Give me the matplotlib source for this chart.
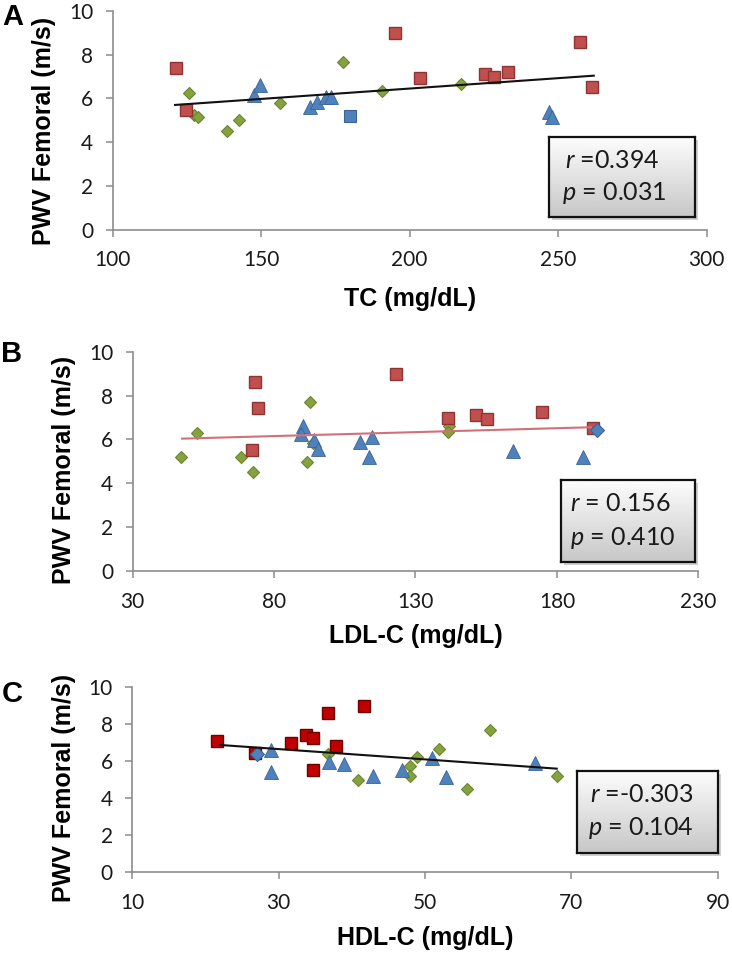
import matplotlib
matplotlib.use("Agg")
import matplotlib.pyplot as plt
import numpy as np
from matplotlib.patches import Rectangle

plt.rcParams['mathtext.fontset'] = 'custom'
plt.rcParams['mathtext.rm'] = 'Lato'
plt.rcParams['mathtext.it'] = 'Lato:italic'

W, H = 732, 958

# ---------------- data ----------------
# Panel A: TC
a_red_x = [121.3, 124.7, 195.2, 203.4, 225.3, 228.3, 233.0, 257.3, 261.3]
a_red_y = [7.38, 5.47, 8.98, 6.92, 7.12, 6.96, 7.19, 8.60, 6.51]
a_green_x = [125.8, 127.5, 128.8, 138.6, 142.7, 156.4, 177.4, 190.7, 217.4]
a_green_y = [6.26, 5.22, 5.15, 4.51, 5.01, 5.78, 7.68, 6.35, 6.66]
a_blue_x = [147.6, 149.7, 166.5, 168.8, 171.9, 173.5, 246.9, 248.0]
a_blue_y = [6.16, 6.61, 5.59, 5.85, 6.05, 6.05, 5.39, 5.16]
a_extra_x = [180.0]
a_extra_y = [5.21]
a_trend_x = [121.0, 262.0]
a_trend_y = [5.70, 7.04]
a_stats = ("=0.394", "= 0.031")

# Panel B: LDL-C
b_red_x = [72.3, 73.3, 74.3, 123.1, 141.4, 151.3, 155.2, 174.6, 192.9]
b_red_y = [5.51, 8.60, 7.44, 9.00, 6.99, 7.11, 6.91, 7.26, 6.53]
b_green_x = [47.0, 52.6, 68.2, 72.4, 92.7, 93.9, 91.8, 142.0, 141.4]
b_green_y = [5.20, 6.27, 5.20, 4.52, 7.69, 5.82, 4.98, 6.61, 6.35]
b_blue_x = [90.3, 89.5, 94.2, 95.4, 110.4, 114.7, 113.6, 164.4, 189.2]
b_blue_y = [6.61, 6.23, 5.97, 5.54, 5.86, 6.09, 5.20, 5.48, 5.20]
b_extra_x = [194.3]
b_extra_y = [6.41]
b_trend_x = [47.5, 192.0]
b_trend_y = [6.03, 6.55]
b_stats = ("= 0.156", "= 0.410")

# Panel C: HDL-C
c_red_x = [21.6, 26.7, 31.7, 33.7, 34.7, 34.7, 36.7, 37.8, 41.7]
c_red_y = [7.06, 6.40, 6.98, 7.39, 7.21, 5.50, 8.60, 6.80, 8.97]
c_green_x = [36.7, 40.8, 48.0, 47.9, 48.9, 51.9, 55.8, 58.9, 68.0]
c_green_y = [6.36, 4.96, 5.71, 5.17, 6.22, 6.61, 4.47, 7.66, 5.19]
c_blue_x = [28.9, 28.9, 36.9, 38.9, 42.9, 46.9, 50.9, 52.9, 65.0]
c_blue_y = [6.58, 5.40, 5.95, 5.80, 5.17, 5.50, 6.16, 5.10, 5.86]
c_extra_x = [27.0]
c_extra_y = [6.35]
c_trend_x = [22.0, 68.0]
c_trend_y = [6.85, 5.57]
c_stats = ("=-0.303", "= 0.104")

y_ticks = [0, 2, 4, 6, 8, 10]
a_xticks = [100, 150, 200, 250, 300]
b_xticks = [30, 80, 130, 180, 230]
c_xticks = [10, 30, 50, 70, 90]

# ---------------- styling ----------------
RED = '#C0504D'; RED_E = '#8E3533'
RED_C = '#C00000'; RED_CE = '#6E0000'
GREEN = '#86A23F'; GREEN_E = '#6B8530'
BLUE = '#4F81BD'; BLUE_E = '#3A6496'
AXC = '#8C8C8C'

fig = plt.figure(figsize=(W / 100, H / 100), dpi=100)


def rect(l, r, t, b):
    return [l / W, 1 - b / H, (r - l) / W, (b - t) / H]


def fx(x):
    return x / W


def fy(y):
    return 1 - y / H


def panel(pos, xt, red, green, blue, extra, extra_marker, trend, trend_color,
          red_c, red_e, letter, letter_xy, xlabel, xlabel_y, ylabel_x, ylabel_y,
          box, stats, text_x, line_ys):
    ax = fig.add_axes(rect(*pos))
    ax.set_xlim(xt[0], xt[-1])
    ax.set_ylim(0, 10)
    ax.set_xticks(xt)
    ax.set_yticks(y_ticks)
    for s in ['top', 'right']:
        ax.spines[s].set_visible(False)
    for s in ['left', 'bottom']:
        ax.spines[s].set_color(AXC)
        ax.spines[s].set_linewidth(1.2)
    ax.tick_params(axis='both', direction='out', length=5, width=1.1, color=AXC,
                   labelsize=15, labelcolor='#1a1a1a')
    ax.tick_params(axis='x', pad=10)
    ax.tick_params(axis='y', pad=9)
    for lab in ax.get_xticklabels() + ax.get_yticklabels():
        lab.set_fontfamily('Lato')
    ax.plot(green[0], green[1], linestyle='none', marker='D', markersize=6.6,
            markerfacecolor=GREEN, markeredgecolor=GREEN_E, markeredgewidth=0.8, zorder=3)
    ax.plot(blue[0], blue[1], linestyle='none', marker='^', markersize=9.5,
            markerfacecolor=BLUE, markeredgecolor=BLUE_E, markeredgewidth=0.6, zorder=3)
    ax.plot(red[0], red[1], linestyle='none', marker='s', markersize=8.8,
            markerfacecolor=red_c, markeredgecolor=red_e, markeredgewidth=1.0, zorder=3)
    ax.plot(extra[0], extra[1], linestyle='none', marker=extra_marker,
            markersize=8.8 if extra_marker == 's' else 6.8,
            markerfacecolor=BLUE, markeredgecolor=BLUE_E, markeredgewidth=0.8, zorder=3)
    ax.plot(trend[0], trend[1], color=trend_color, linewidth=1.5, zorder=4)

    fig.text(fx(letter_xy[0]), fy(letter_xy[1]), letter, fontsize=21, fontweight='bold',
             family='Liberation Sans', ha='center', va='center')
    fig.text(fx((pos[0] + pos[1]) / 2), fy(xlabel_y), xlabel, fontsize=18,
             fontweight='bold', family='Liberation Sans', ha='center', va='center')
    fig.text(fx(ylabel_x), fy(ylabel_y), 'PWV Femoral (m/s)', fontsize=18,
             fontweight='bold', family='Liberation Sans', ha='center', va='center',
             rotation=90)

    # stats box with gradient + shadow
    bl, br, bt, bb = box
    sh = Rectangle((fx(bl + 3), fy(bb + 3)), (br - bl) / W, (bb - bt) / H,
                   transform=fig.transFigure, facecolor='#b0b0b0', edgecolor='none',
                   alpha=0.6, zorder=5)
    fig.add_artist(sh)
    bax = fig.add_axes(rect(bl, br, bt, bb), zorder=6)
    grad = np.linspace(0.99, 0.78, 100).reshape(-1, 1)
    bax.imshow(np.repeat(grad, 2, axis=1), cmap='gray', vmin=0, vmax=1,
               aspect='auto', extent=[0, 1, 0, 1], origin='upper')
    bax.set_xticks([]); bax.set_yticks([])
    for s in bax.spines.values():
        s.set_color('#111111'); s.set_linewidth(1.6)
    fig.text(fx(text_x[0]), fy(line_ys[0]), r'$\mathit{r}$ ' + stats[0], fontsize=18,
             family='Lato', ha='left', va='center', color='#1a1a1a', zorder=7)
    fig.text(fx(text_x[1]), fy(line_ys[1]), r'$\mathit{p}$ ' + stats[1], fontsize=18,
             family='Lato', ha='left', va='center', color='#1a1a1a', zorder=7)
    return ax


panel((112.7, 706.6, 11.0, 229.5), a_xticks,
      (a_red_x, a_red_y), (a_green_x, a_green_y), (a_blue_x, a_blue_y),
      (a_extra_x, a_extra_y), 's', (a_trend_x, a_trend_y), '#111111',
      RED, RED_E, 'A', (13, 17), 'TC (mg/dL)', 299, 44.5, 131,
      (549, 695, 137, 217), a_stats, (565, 562), (160, 193))

panel((132.7, 698.3, 351.7, 570.7), b_xticks,
      (b_red_x, b_red_y), (b_green_x, b_green_y), (b_blue_x, b_blue_y),
      (b_extra_x, b_extra_y), 'D', (b_trend_x, b_trend_y), '#D2707A',
      RED, RED_E, 'B', (12, 354), 'LDL-C (mg/dL)', 636, 64.5, 470,
      (560.7, 695.3, 480, 561.7), b_stats, (570.5, 570.5), (503.3, 538.3))

panel((132.3, 717.7, 686.7, 871.7), c_xticks,
      (c_red_x, c_red_y), (c_green_x, c_green_y), (c_blue_x, c_blue_y),
      (c_extra_x, c_extra_y), 'D', (c_trend_x, c_trend_y), '#111111',
      RED_C, RED_CE, 'C', (12, 694), 'HDL-C (mg/dL)', 938, 64.0, 788,
      (576.7, 718.3, 770.7, 853.3), c_stats, (590.5, 588), (795, 828.3))

fig.savefig('out.png', dpi=100)
